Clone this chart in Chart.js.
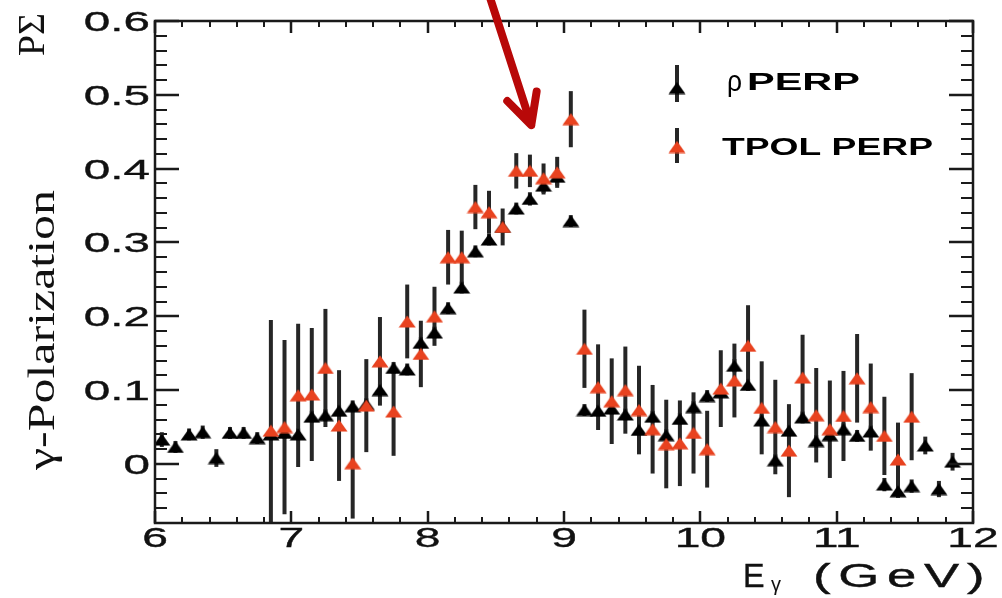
<!DOCTYPE html>
<html>
<head>
<meta charset="utf-8">
<title>Beam asymmetry vs photon energy</title>
<script src="https://cdn.jsdelivr.net/npm/chart.js@4.4.1/dist/chart.umd.min.js"></script>
<style>
  html, body { margin: 0; padding: 0; background: #fff; }
  #wrap { position: relative; width: 1002px; height: 598px; }
</style>
</head>
<body>
<div id="wrap"><canvas id="chart"></canvas></div>
<script>
// rho PERP: photon energy bins (GeV), P*Sigma and its error
const rhoE = [6.05, 6.15, 6.25, 6.35, 6.45, 6.55, 6.65, 6.75, 6.85, 6.95,
              7.05, 7.15, 7.25, 7.35, 7.45, 7.55, 7.65, 7.75, 7.85, 7.95,
              8.05, 8.15, 8.25, 8.35, 8.45, 8.55, 8.65, 8.75, 8.85, 8.95,
              9.05, 9.15, 9.25, 9.35, 9.45, 9.55, 9.65, 9.75, 9.85, 9.95,
              10.05, 10.15, 10.25, 10.35, 10.45, 10.55, 10.65, 10.75, 10.85, 10.95,
              11.05, 11.15, 11.25, 11.35, 11.45, 11.55, 11.65, 11.75, 11.85];
const rhoPSigma = [0.033, 0.023, 0.040, 0.043, 0.008, 0.042, 0.042, 0.035, 0.040, 0.042,
                   0.040, 0.064, 0.066, 0.072, 0.078, 0.081, 0.100, 0.130, 0.128, 0.164,
                   0.178, 0.211, 0.239, 0.288, 0.304, 0.321, 0.346, 0.359, 0.377, 0.389,
                   0.329, 0.073, 0.072, 0.075, 0.067, 0.046, 0.064, 0.039, 0.061, 0.077,
                   0.092, 0.097, 0.133, 0.107, 0.059, 0.005, 0.045, 0.063, 0.031, 0.039,
                   0.047, 0.038, 0.044, -0.028, -0.037, -0.030, 0.025, -0.034, 0.003];
const rhoErr = [0.010, 0.008, 0.008, 0.009, 0.012, 0.008, 0.008, 0.008, 0.008, 0.008,
                0.008, 0.008, 0.008, 0.008, 0.008, 0.008, 0.009, 0.008, 0.008, 0.008,
                0.008, 0.008, 0.008, 0.008, 0.008, 0.008, 0.008, 0.009, 0.012, 0.012,
                0.008, 0.008, 0.008, 0.008, 0.008, 0.008, 0.008, 0.008, 0.008, 0.008,
                0.008, 0.008, 0.009, 0.008, 0.008, 0.008, 0.008, 0.008, 0.008, 0.008,
                0.008, 0.008, 0.008, 0.009, 0.009, 0.009, 0.012, 0.011, 0.012];

// TPOL PERP
const tpolE = [6.85, 6.95, 7.05, 7.15, 7.25, 7.35, 7.45, 7.55, 7.65, 7.75,
               7.85, 7.95, 8.05, 8.15, 8.25, 8.35, 8.45, 8.55, 8.65, 8.75,
               8.85, 8.95, 9.05, 9.15, 9.25, 9.35, 9.45, 9.55, 9.65, 9.75,
               9.85, 9.95, 10.05, 10.15, 10.25, 10.35, 10.45, 10.55, 10.65, 10.75,
               10.85, 10.95, 11.05, 11.15, 11.25, 11.35, 11.45, 11.55];
const tpolPSigma = [0.045, 0.050, 0.093, 0.094, 0.130, 0.052, 0.001, 0.079, 0.139, 0.071,
                    0.193, 0.149, 0.200, 0.280, 0.280, 0.348, 0.341, 0.321, 0.397, 0.397,
                    0.387, 0.395, 0.467, 0.156, 0.104, 0.085, 0.100, 0.073, 0.047, 0.027,
                    0.028, 0.042, 0.020, 0.102, 0.113, 0.160, 0.076, 0.050, 0.018, 0.117,
                    0.066, 0.047, 0.065, 0.116, 0.077, 0.038, 0.006, 0.064];
const tpolErr = [0.150, 0.118, 0.097, 0.090, 0.080, 0.075, 0.075, 0.063, 0.060, 0.060,
                 0.050, 0.045, 0.040, 0.037, 0.036, 0.030, 0.029, 0.025, 0.024, 0.022,
                 0.020, 0.021, 0.038, 0.053, 0.058, 0.058, 0.059, 0.060, 0.060, 0.060,
                 0.058, 0.055, 0.052, 0.052, 0.050, 0.055, 0.063, 0.064, 0.063, 0.058,
                 0.064, 0.066, 0.061, 0.060, 0.059, 0.053, 0.050, 0.059];

// axes
const xTicks = [6, 7, 8, 9, 10, 11, 12];
const xTickLabels = ['6', '7', '8', '9', '10', '11', '12'];
const yTicks = [0, 0.1, 0.2, 0.3, 0.4, 0.5, 0.6];
const yTickLabels = ['0', '0.1', '0.2', '0.3', '0.4', '0.5', '0.6'];

// arrow pointing at the coherent peak (data coords)
const arrowFrom = { x: 8.46, y: 0.63 };
const arrowTo = { x: 8.76, y: 0.459 };

const RED = '#e8421f';
const BAR = '#262626';
const SANS = '"Liberation Sans", Arial, sans-serif';
const SERIF = '"Liberation Serif", "DejaVu Serif", serif';

// flat triangle markers like the ROOT plot
function triangle(color) {
    const c = document.createElement('canvas');
    c.width = 18; c.height = 13;
    const g = c.getContext('2d');
    g.fillStyle = color;
    g.beginPath();
    g.moveTo(9, 0.5);
    g.lineTo(17.5, 12.5);
    g.lineTo(0.5, 12.5);
    g.closePath();
    g.fill();
    return c;
}
const blackTri = triangle('#000');
const redTri = triangle(RED);

// draw text stretched along its baseline (optionally a bit heavier)
function drawText(ctx, text, x, y, sx, align, heavy) {
    const w = ctx.measureText(text).width;
    ctx.save();
    ctx.translate(x, y);
    ctx.scale(sx, 1);
    ctx.textAlign = 'left';
    const x0 = align === 'right' ? -w : (align === 'center' ? -w / 2 : 0);
    ctx.fillText(text, x0, 0);
    if (heavy) {
        ctx.lineWidth = heavy;
        ctx.strokeStyle = ctx.fillStyle;
        ctx.strokeText(text, x0, 0);
    }
    ctx.restore();
}
function fitText(ctx, text, x, y, width, heavy) {
    const w = ctx.measureText(text).width;
    drawText(ctx, text, x, y, width / w, 'left', heavy);
}

const errorBars = {
    id: 'errorBars',
    beforeDatasetsDraw(chart) {
        const { ctx, chartArea: a, scales: { x, y } } = chart;
        ctx.save();
        ctx.beginPath();
        ctx.rect(a.left, a.top, a.right - a.left, a.bottom - a.top);
        ctx.clip();
        ctx.strokeStyle = BAR;
        ctx.lineWidth = 4;
        chart.data.datasets.forEach(ds => {
            ds.data.forEach((p, i) => {
                const px = x.getPixelForValue(p.x);
                ctx.beginPath();
                ctx.moveTo(px, y.getPixelForValue(p.y - ds.err[i]));
                ctx.lineTo(px, y.getPixelForValue(p.y + ds.err[i]));
                ctx.stroke();
            });
        });
        ctx.restore();
    }
};

const frame = {
    id: 'frame',
    afterDraw(chart) {
        const { ctx, chartArea: a, scales: { x, y } } = chart;
        ctx.save();
        ctx.strokeStyle = '#1a1a1a';

        // minor ticks
        ctx.lineWidth = 2;
        ctx.beginPath();
        for (let v = 6.2; v < 12; v += 0.2) {
            const px = Math.round(x.getPixelForValue(v));
            ctx.moveTo(px, a.bottom); ctx.lineTo(px, a.bottom - 6);
            ctx.moveTo(px, a.top); ctx.lineTo(px, a.top + 6);
        }
        for (let v = -0.06; v < 0.6; v += 0.02) {
            const py = Math.round(y.getPixelForValue(v));
            ctx.moveTo(a.left, py); ctx.lineTo(a.left + 12, py);
            ctx.moveTo(a.right, py); ctx.lineTo(a.right - 12, py);
        }
        ctx.stroke();

        // major ticks
        ctx.lineWidth = 2.5;
        ctx.beginPath();
        x.ticks.forEach(t => {
            const px = Math.round(x.getPixelForValue(t.value));
            ctx.moveTo(px, a.bottom); ctx.lineTo(px, a.bottom - 12);
            ctx.moveTo(px, a.top); ctx.lineTo(px, a.top + 12);
        });
        y.ticks.forEach(t => {
            const py = Math.round(y.getPixelForValue(t.value));
            ctx.moveTo(a.left, py); ctx.lineTo(a.left + 24, py);
            ctx.moveTo(a.right, py); ctx.lineTo(a.right - 24, py);
        });
        ctx.stroke();

        // frame
        ctx.lineWidth = 2.5;
        ctx.strokeRect(a.left, a.top, a.right - a.left, a.bottom - a.top);

        // tick labels
        ctx.fillStyle = '#111';
        ctx.font = '28px ' + SANS;
        ctx.textBaseline = 'alphabetic';
        x.ticks.forEach((t, i) => {
            drawText(ctx, xTickLabels[i], x.getPixelForValue(t.value), 547, 1.65, 'center', 0.35);
        });
        y.ticks.forEach((t, i) => {
            drawText(ctx, yTickLabels[i], 150, y.getPixelForValue(t.value) + 10, 1.7, 'right', 0.35);
        });

        // x title: E_gamma (GeV)
        ctx.font = '34px ' + SANS;
        drawText(ctx, 'E', 743, 587, 0.95, 'left', 0.4);
        ctx.letterSpacing = '5px';
        drawText(ctx, '(GeV)', 813, 587, 1.55, 'left', 0.4);
        ctx.letterSpacing = '0px';
        ctx.font = '20px ' + SANS;
        ctx.fillText('γ', 771, 591);

        // y title, rotated
        ctx.save();
        ctx.translate(54, 470);
        ctx.rotate(-Math.PI / 2);
        ctx.font = '38px ' + SERIF;
        fitText(ctx, 'γ-Polarization', 0, 0, 280);
        ctx.restore();
        ctx.save();
        ctx.translate(44, 56);
        ctx.rotate(-Math.PI / 2);
        ctx.font = '37px ' + SERIF;
        fitText(ctx, 'PΣ', 0, 0, 43);
        ctx.restore();

        // legend
        ctx.strokeStyle = BAR;
        ctx.lineWidth = 4;
        ctx.beginPath();
        ctx.moveTo(677, 65); ctx.lineTo(677, 102);
        ctx.moveTo(677, 128); ctx.lineTo(677, 163);
        ctx.stroke();
        ctx.drawImage(blackTri, 677 - 9, 88 - 6.5);
        ctx.drawImage(redTri, 677 - 9, 147 - 6.5);
        ctx.fillStyle = '#000';
        ctx.font = '29px ' + SANS;
        fitText(ctx, 'ρ', 727, 91, 15);
        ctx.font = 'bold 23px ' + SANS;
        fitText(ctx, 'PERP', 747, 90, 113);
        fitText(ctx, 'TPOL PERP', 722, 155, 211);

        // red arrow
        const x0 = x.getPixelForValue(arrowFrom.x), y0 = y.getPixelForValue(arrowFrom.y);
        const x1 = x.getPixelForValue(arrowTo.x), y1 = y.getPixelForValue(arrowTo.y);
        const ang = Math.atan2(y1 - y0, x1 - x0);
        const head = 34, spread = 27 * Math.PI / 180;
        ctx.strokeStyle = '#b80808';
        ctx.lineWidth = 8;
        ctx.lineCap = 'round';
        ctx.lineJoin = 'round';
        ctx.beginPath();
        ctx.moveTo(x0, y0);
        ctx.lineTo(x1, y1);
        ctx.moveTo(x1 - head * Math.cos(ang - spread), y1 - head * Math.sin(ang - spread));
        ctx.lineTo(x1, y1);
        ctx.lineTo(x1 - head * Math.cos(ang + spread), y1 - head * Math.sin(ang + spread));
        ctx.stroke();

        ctx.restore();
    }
};

const ctx = document.getElementById('chart').getContext('2d');
new Chart(ctx, {
    type: 'scatter',
    data: {
        datasets: [
            {
                label: 'TPOL PERP',
                data: tpolE.map((e, i) => ({ x: e, y: tpolPSigma[i] })),
                err: tpolErr,
                pointStyle: redTri,
                pointRadius: 9,
                backgroundColor: RED,
                borderColor: RED
            },
            {
                label: 'ρ PERP',
                data: rhoE.map((e, i) => ({ x: e, y: rhoPSigma[i] })),
                err: rhoErr,
                pointStyle: blackTri,
                pointRadius: 9,
                backgroundColor: '#000',
                borderColor: '#000'
            }
        ]
    },
    options: {
        responsive: true,
        maintainAspectRatio: false,
        animation: false,
        layout: { padding: { left: 155, right: 29, top: 21, bottom: 75 } },
        plugins: {
            legend: { display: false },
            tooltip: { enabled: false }
        },
        scales: {
            x: {
                type: 'linear', min: 6, max: 12, display: false,
                afterBuildTicks: s => { s.ticks = xTicks.map(v => ({ value: v })); }
            },
            y: {
                type: 'linear', min: -0.08, max: 0.6, display: false,
                afterBuildTicks: s => { s.ticks = yTicks.map(v => ({ value: v })); }
            }
        }
    },
    plugins: [errorBars, frame]
});
</script>
</body>
</html>
